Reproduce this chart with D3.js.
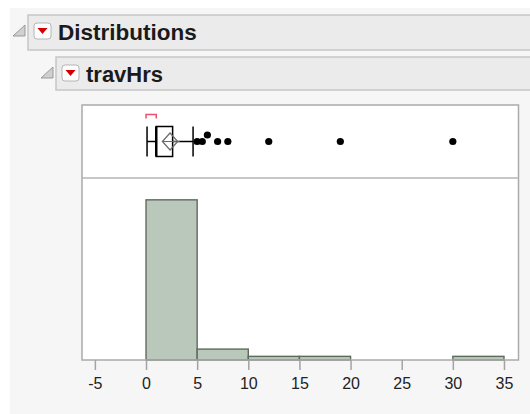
<!DOCTYPE html>
<html>
<head>
<meta charset="utf-8">
<script src="https://cdn.jsdelivr.net/npm/d3@7"></script>
<style>
  html, body { margin: 0; padding: 0; background: #fff; }
  svg { display: block; }
</style>
</head>
<body>
<div id="dist-chart"></div>
<script>
// travHrs distribution: outlier box plot on top, histogram below

const binStarts = [0, 5, 10, 15, 20, 25, 30];
const binWidth = 5;
const binCounts = [44, 3, 1, 1, 0, 0, 1];

const xTicks = [-5, 0, 5, 10, 15, 20, 25, 30, 35];

// box plot summary: lower whisker, Q1, median, Q3, upper whisker
const boxStats = [0.1, 1, 1, 2.6, 4.6];
const meanValue = 2.35;
const meanCI = [1.6, 3.1];
const shortestHalf = [0, 1];
const outliers = [5, 5.5, 6, 7, 8, 12, 19, 30];
const outlierStack = [0, 0, 1, 0, 0, 0, 0, 0];

const W = 530, H = 414;

const svg = d3.select("#dist-chart")
  .append("svg")
  .attr("width", W)
  .attr("height", H);

// page background
svg.append("rect").attr("x", 10).attr("y", 8).attr("width", W - 10).attr("height", H - 8)
  .attr("fill", "#f6f6f6");

// outline headers
function header(x, y, h, label, size) {
  svg.append("rect")
    .attr("x", x).attr("y", y).attr("width", W - x + 5).attr("height", h)
    .attr("fill", "#ebebeb").attr("stroke", "#c6c6c6").attr("stroke-width", 1.5);

  // disclosure triangle
  const tx = x - 15, ty = y + 10;
  svg.append("path")
    .attr("d", `M${tx},${ty + 11}L${tx + 12},${ty + 11}L${tx + 12},${ty}Z`)
    .attr("fill", "#d0d0d0").attr("stroke", "#999").attr("stroke-width", 1);

  // red popup button
  const bx = x + 6, by = y + 8;
  svg.append("rect")
    .attr("x", bx).attr("y", by).attr("width", 17).attr("height", 16).attr("rx", 3)
    .attr("fill", "#fdfdfd").attr("stroke", "#b5b5b5").attr("stroke-width", 1);
  svg.append("path")
    .attr("d", `M${bx + 3.5},${by + 5}L${bx + 13.5},${by + 5}L${bx + 8.5},${by + 11}Z`)
    .attr("fill", "#d40000");

  svg.append("text")
    .attr("x", x + 30).attr("y", y + 25)
    .style("font-family", "'Liberation Sans', Arial, sans-serif")
    .style("font-weight", "bold")
    .style("font-size", size + "px")
    .style("fill", "#1a1a1a")
    .text(label);
}

header(28, 15, 35, "Distributions", 22.5);
header(56, 57, 33, "travHrs", 22);

// plot frame
const frame = { left: 82, right: 518.5, top: 105, split: 178, bottom: 360 };

const x = d3.scaleLinear()
  .domain([-6.26, 36.42])
  .range([frame.left, frame.right]);

const y = d3.scaleLinear()
  .domain([0, 50])
  .range([frame.bottom, frame.split]);

svg.append("rect")
  .attr("x", frame.left).attr("y", frame.top)
  .attr("width", frame.right - frame.left).attr("height", frame.bottom - frame.top)
  .attr("fill", "#fff");

// histogram
svg.selectAll(".bar")
  .data(binStarts.map((s, i) => ({ start: s, count: binCounts[i] })).filter(d => d.count > 0))
  .join("rect")
  .attr("class", "bar")
  .attr("x", d => x(d.start))
  .attr("y", d => y(d.count))
  .attr("width", d => x(d.start + binWidth) - x(d.start))
  .attr("height", d => y(0) - y(d.count))
  .attr("fill", "#b9c8ba")
  .attr("stroke", "#5e6a5e")
  .attr("stroke-width", 1.4);

// frame border and panel split
svg.append("rect")
  .attr("x", frame.left).attr("y", frame.top)
  .attr("width", frame.right - frame.left).attr("height", frame.bottom - frame.top)
  .attr("fill", "none").attr("stroke", "#ababab").attr("stroke-width", 1.5);

svg.append("line")
  .attr("x1", frame.left).attr("x2", frame.right)
  .attr("y1", frame.split).attr("y2", frame.split)
  .attr("stroke", "#b4b4b4").attr("stroke-width", 1.5);

// x axis
const xAxis = svg.append("g")
  .attr("transform", `translate(0,${frame.bottom})`)
  .call(d3.axisBottom(x).tickValues(xTicks).tickSize(10).tickSizeOuter(0).tickFormat(d => String(d)));

xAxis.select(".domain").remove();
xAxis.selectAll(".tick line").attr("stroke", "#a3a3a3").attr("stroke-width", 1.5);
xAxis.selectAll(".tick text")
  .attr("y", 29).attr("dy", 0)
  .style("font-family", "'Liberation Sans', Arial, sans-serif")
  .style("font-size", "16px")
  .style("fill", "#222");

// box plot
const mid = 141.5, half = 15;
const [wLo, q1, med, q3, wHi] = boxStats;

const box = svg.append("g");

box.append("line")
  .attr("x1", x(wLo)).attr("x2", x(q1)).attr("y1", mid).attr("y2", mid)
  .attr("stroke", "#000").attr("stroke-width", 1.5);
box.append("line")
  .attr("x1", x(q3)).attr("x2", x(wHi)).attr("y1", mid).attr("y2", mid)
  .attr("stroke", "#000").attr("stroke-width", 1.5);

box.selectAll(".cap")
  .data([wLo, wHi])
  .join("line")
  .attr("class", "cap")
  .attr("x1", d => x(d)).attr("x2", d => x(d))
  .attr("y1", mid - half).attr("y2", mid + half)
  .attr("stroke", "#000").attr("stroke-width", 1.5);

box.append("rect")
  .attr("x", x(q1)).attr("y", mid - half)
  .attr("width", x(q3) - x(q1)).attr("height", half * 2)
  .attr("fill", "#fff").attr("stroke", "#000").attr("stroke-width", 1.5);

box.append("line")
  .attr("x1", x(med)).attr("x2", x(med))
  .attr("y1", mid - half).attr("y2", mid + half)
  .attr("stroke", "#000").attr("stroke-width", 2.5);

// mean confidence diamond
const dh = 8.5;
box.append("path")
  .attr("d", `M${x(meanCI[0])},${mid}L${x(meanValue)},${mid - dh}L${x(meanCI[1])},${mid}L${x(meanValue)},${mid + dh}Z`)
  .attr("fill", "none").attr("stroke", "#6a6a6a").attr("stroke-width", 1.2);
box.append("line")
  .attr("x1", x(meanCI[0])).attr("x2", x(meanCI[1]) + 2)
  .attr("y1", mid).attr("y2", mid)
  .attr("stroke", "#6a6a6a").attr("stroke-width", 1);

// shortest half bracket
box.append("path")
  .attr("d", `M${x(shortestHalf[0])},118.5V114.5H${x(shortestHalf[1])}V118.5`)
  .attr("fill", "none").attr("stroke", "#ee4f6b").attr("stroke-width", 1.5);

// outlier points
box.selectAll(".outlier")
  .data(outliers.map((v, i) => ({ v, s: outlierStack[i] })))
  .join("circle")
  .attr("class", "outlier")
  .attr("cx", d => x(d.v))
  .attr("cy", d => mid - d.s * 6.5)
  .attr("r", 3.6)
  .attr("fill", "#000");
</script>
</body>
</html>
